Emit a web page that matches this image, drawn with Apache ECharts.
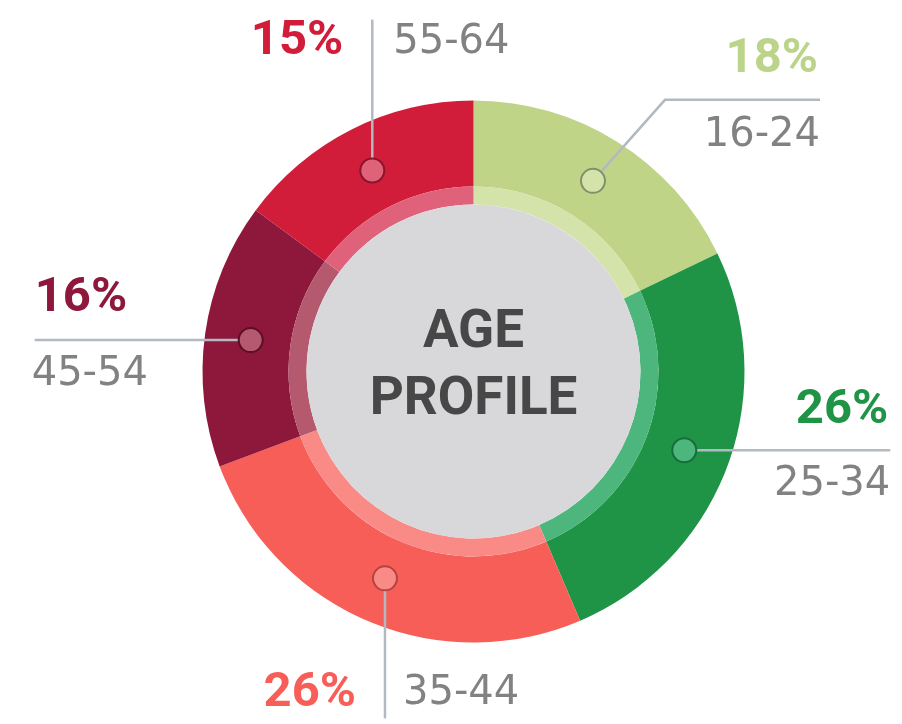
<!DOCTYPE html>
<html>
<head>
<meta charset="utf-8">
<script src="https://cdn.jsdelivr.net/npm/echarts@6/dist/echarts.min.js"></script>
<style>
html,body{margin:0;padding:0;background:#fff;}
#chart{width:902px;height:724px;}
</style>
</head>
<body>
<div id="chart"></div>
<script>
// ---- data ----
const categories = ['16-24', '25-34', '35-44', '45-54', '55-64'];
const shares = [18, 26, 26, 16, 15];
const centerTitle = 'AGE\nPROFILE';

// ---- styles ----
const sliceColors  = ['#c0d488', '#1f9446', '#f75e58', '#8e173c', '#d11d3a'];
const bandColors   = ['#d3e3aa', '#4cb67c', '#fa8a86', '#b5596f', '#e0627a'];
const markerStroke = ['#7f906a', '#176e38', '#b2433f', '#5c0e25', '#8a1429'];
const pctColors    = ['#bcd38a', '#1f9446', '#f75e58', '#8e173c', '#d11d3a'];
const CX = 473.5, CY = 371.5;
const R_OUT = 271, R_BAND_OUT = 185, R_IN = 167, R_MARK = 225;
// leader layout per slice: offsets relative to the marker
const leaders = [
  {pts: [[72, -81], [227, -81]], pct: [225, -121, 'right'], age: [227, -45, 'right']},
  {pts: [[206, 0]], pct: [204, -40, 'right'], age: [206, 34, 'right']},
  {pts: [[0, 140]], pct: [-29, 115, 'right'], age: [18, 115, 'left']},
  {pts: [[-216, 0]], pct: [-216, -41, 'left'], age: [-219, 35, 'left']},
  {pts: [[0, -151]], pct: [-29, -129, 'right'], age: [21, -128, 'left']}
];

const total = shares.reduce((a, b) => a + b, 0);
const cum = [];
shares.reduce((acc, v) => { cum.push(acc); return acc + v; }, 0);

const chart = echarts.init(document.getElementById('chart'));
chart.setOption({
  animation: false,
  backgroundColor: '#ffffff',
  polar: {center: [CX, CY], radius: R_OUT},
  angleAxis: {type: 'value', min: 0, max: total, startAngle: 90, clockwise: true, show: false},
  radiusAxis: {type: 'value', min: 0, max: R_OUT, show: false},
  series: [
    {
      type: 'pie', center: [CX, CY], radius: [R_BAND_OUT, R_OUT], startAngle: 90, clockwise: true,
      silent: true, label: {show: false}, labelLine: {show: false},
      data: categories.map((c, i) => ({name: c, value: shares[i], itemStyle: {color: sliceColors[i]}}))
    },
    {
      type: 'pie', center: [CX, CY], radius: [R_IN, R_BAND_OUT], startAngle: 90, clockwise: true,
      silent: true, label: {show: false}, labelLine: {show: false},
      data: categories.map((c, i) => ({name: c, value: shares[i], itemStyle: {color: bandColors[i]}}))
    },
    {
      type: 'pie', center: [CX, CY], radius: [0, R_IN], silent: true,
      label: {show: true, position: 'center', formatter: centerTitle, color: '#474747',
              fontFamily: 'Roboto', fontWeight: 'bold', fontSize: 53, lineHeight: 67, offset: [0, -4]},
      labelLine: {show: false},
      data: [{name: 'center', value: 1, itemStyle: {color: '#d8d8da'}}]
    },
    {
      type: 'custom', coordinateSystem: 'polar', z: 10, silent: true,
      encode: {radius: 0, angle: 1},
      data: categories.map((c, i) => [R_MARK, cum[i] + shares[i] / 2, i]),
      renderItem: function (params, api) {
        const i = api.value(2);
        const p = api.coord([api.value(0), api.value(1)]);
        const L = leaders[i];
        const pts = [[p[0], p[1]]].concat(L.pts.map(o => [p[0] + o[0], p[1] + o[1]]));
        return {
          type: 'group',
          children: [
            {type: 'polyline', shape: {points: pts}, style: {stroke: '#b3b9c1', lineWidth: 2.5, fill: null}},
            {type: 'circle', shape: {cx: p[0], cy: p[1], r: 12},
             style: {fill: bandColors[i], stroke: markerStroke[i], lineWidth: 2}},
            {type: 'text', style: {x: p[0] + L.pct[0], y: p[1] + L.pct[1], text: shares[i] + '%',
              fill: pctColors[i], fontFamily: 'Roboto', fontWeight: 'bold', fontSize: 49,
              align: L.pct[2], verticalAlign: 'middle'}},
            {type: 'text', style: {x: p[0] + L.age[0], y: p[1] + L.age[1], text: categories[i],
              fill: '#828282', fontFamily: 'DejaVu Sans', fontWeight: 'normal', fontSize: 40,
              align: L.age[2], verticalAlign: 'middle'}}
          ]
        };
      }
    }
  ]
});
</script>
</body>
</html>
